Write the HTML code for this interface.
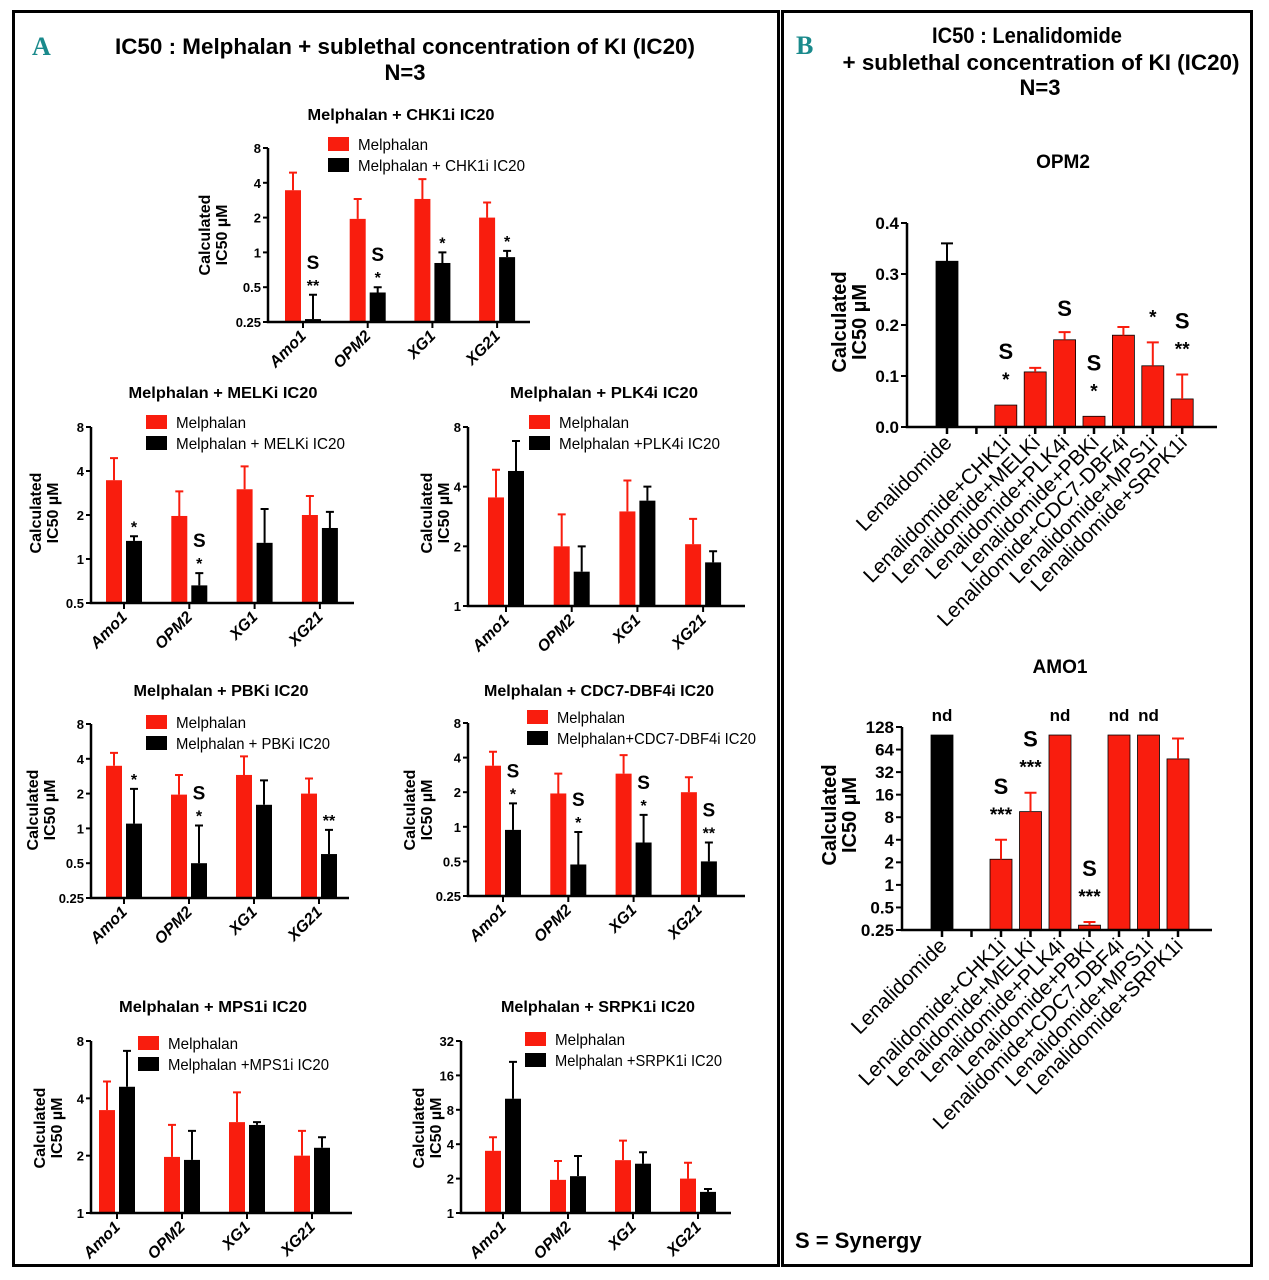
<!DOCTYPE html>
<html><head><meta charset="utf-8"><style>
html,body{margin:0;padding:0;background:#fff;}
svg{display:block;font-family:"Liberation Sans",Arial,sans-serif;}
.b{font-weight:bold;}
.n{font-family:"Liberation Sans Narrow","Liberation Sans",sans-serif;}
</style></head><body>
<svg id="fig" width="1269" height="1280" viewBox="0 0 1269 1280" xmlns="http://www.w3.org/2000/svg">
<rect x="0" y="0" width="1269" height="1280" fill="#fff"/>
<rect x="13.5" y="11.5" width="765" height="1254" fill="none" stroke="#000" stroke-width="3"/>
<rect x="782.5" y="11.5" width="469" height="1254" fill="none" stroke="#000" stroke-width="3"/>
<text x="32" y="55" font-size="26" font-weight="bold" fill="#1a8a8c" font-family="Liberation Serif,serif">A</text>
<text x="405" y="54" text-anchor="middle" font-size="22" class="b" textLength="580" lengthAdjust="spacingAndGlyphs">IC50 : Melphalan + sublethal concentration of KI (IC20)</text>
<text x="405" y="80" text-anchor="middle" font-size="22" class="b">N=3</text>
<text x="796" y="54" font-size="26" font-weight="bold" fill="#1a8a8c" font-family="Liberation Serif,serif">B</text>
<text x="1027" y="43" text-anchor="middle" font-size="22" class="b" textLength="190" lengthAdjust="spacingAndGlyphs">IC50 : Lenalidomide</text>
<text x="1041" y="70" text-anchor="middle" font-size="22" class="b" textLength="397" lengthAdjust="spacingAndGlyphs">+ sublethal concentration of KI (IC20)</text>
<text x="1040" y="95" text-anchor="middle" font-size="22" class="b">N=3</text>
<text x="1063" y="168" text-anchor="middle" font-size="19" class="b">OPM2</text>
<text x="1060" y="673" text-anchor="middle" font-size="19" class="b">AMO1</text>
<text x="795" y="1248" font-size="22" class="b">S = Synergy</text>
<g id="plots"></g>
</svg>
<script>
// ---- data ----
const cellLines = ['Amo1','OPM2','XG1','XG21'];
const ticksA = [0.25,0.5,1,2,4,8];
const ticksB = [0.5,1,2,4,8];
const ticksC = [1,2,4,8];
const ticksD = [1,2,4,8,16,32];

const chk1Mel = [3.45,1.95,2.9,2.0];
const chk1MelErr = [4.9,2.9,4.3,2.7];
const chk1Combo = [0.265,0.45,0.81,0.91];
const chk1ComboErr = [0.43,0.5,1.0,1.03];
const chk1Sig = ['**','*','*','*'];
const chk1Syn = [1,1,0,0];

const melkMel = [3.46,1.97,3.0,2.0];
const melkMelErr = [4.9,2.9,4.3,2.7];
const melkCombo = [1.33,0.66,1.29,1.63];
const melkComboErr = [1.43,0.8,2.2,2.1];
const melkSig = ['*','*','',''];
const melkSyn = [0,1,0,0];

const plk4Mel = [3.53,2.0,3.0,2.05];
const plk4MelErr = [4.87,2.9,4.3,2.75];
const plk4Combo = [4.8,1.49,3.4,1.66];
const plk4ComboErr = [6.8,2.0,4.0,1.89];
const plk4Sig = ['','','',''];
const plk4Syn = [0,0,0,0];

const pbkMel = [3.48,1.96,2.9,2.0];
const pbkMelErr = [4.5,2.9,4.2,2.7];
const pbkCombo = [1.1,0.5,1.6,0.6];
const pbkComboErr = [2.2,1.06,2.6,0.97];
const pbkSig = ['*','*','','**'];
const pbkSyn = [0,1,0,0];

const cdc7Mel = [3.4,1.95,2.9,2.0];
const cdc7MelErr = [4.5,2.9,4.2,2.7];
const cdc7Combo = [0.94,0.47,0.73,0.5];
const cdc7ComboErr = [1.6,0.9,1.27,0.73];
const cdc7Sig = ['*','*','*','**'];
const cdc7Syn = [1,1,1,1];

const mps1Mel = [3.47,1.97,3.0,2.0];
const mps1MelErr = [4.9,2.9,4.3,2.7];
const mps1Combo = [4.6,1.9,2.9,2.2];
const mps1ComboErr = [7.1,2.7,3.0,2.5];
const mps1Sig = ['','','',''];
const mps1Syn = [0,0,0,0];

const srpkMel = [3.5,1.95,2.9,2.0];
const srpkMelErr = [4.6,2.85,4.3,2.75];
const srpkCombo = [10,2.1,2.7,1.53];
const srpkComboErr = [21,3.15,3.4,1.62];
const srpkSig = ['','','',''];
const srpkSyn = [0,0,0,0];

const lenCats = ['Lenalidomide','','Lenalidomide+CHK1i','Lenalidomide+MELKi','Lenalidomide+PLK4i','Lenalidomide+PBKi','Lenalidomide+CDC7-DBF4i','Lenalidomide+MPS1i','Lenalidomide+SRPK1i'];
const opm2Ticks = [0,0.1,0.2,0.3,0.4];
const opm2TickLabels = ['0.0','0.1','0.2','0.3','0.4'];
const opm2Vals = [0.325,null,0.043,0.108,0.171,0.021,0.18,0.12,0.055];
const opm2Err = [0.36,null,null,0.116,0.186,null,0.196,0.166,0.103];
const opm2Sig = ['','','*','','','*','','*','**'];
const opm2Syn = [0,0,1,0,1,1,0,0,1];
const amo1Ticks = [0.25,0.5,1,2,4,8,16,32,64,128];
const amo1TickLabels = ['0.25','0.5','1','2','4','8','16','32','64','128'];
const amo1Vals = [100,null,2.2,9.5,100,0.29,100,100,48];
const amo1Err = [null,null,4,17,null,0.32,null,null,90];
const amo1Sig = ['','','***','***','','***','','',''];
const amo1Syn = [0,0,1,1,0,1,0,0,0];
const amo1Nd = [1,0,0,0,1,0,1,1,0];

const RED = '#f91d0e';
const NS = 'http://www.w3.org/2000/svg';
const root = document.getElementById('plots');
function mk(tag, attrs, parent, txt){
  const e = document.createElementNS(NS, tag);
  for (const k in attrs) e.setAttribute(k, attrs[k]);
  if (txt !== undefined) e.textContent = txt;
  (parent || root).appendChild(e);
  return e;
}
function fmt(v){ return String(v); }

function drawMel(p){
  const g = mk('g', {});
  
  
  const l0 = Math.log2(p.min), l1 = Math.log2(p.max);
  const y = v => p.ay - (Math.log2(v) - l0) / (l1 - l0) * (p.ay - p.top);
  const x = i => p.x0 + i * p.step;
  const t = mk('text', {x: p.tx, y: p.ty, 'text-anchor':'middle', 'font-size':16, 'font-weight':'bold', textLength:p.tw, lengthAdjust:'spacingAndGlyphs'}, g, p.title);
  
  
  const lr = mk('rect', {x:p.lx, y:p.ly, width:21, height:14, fill:RED}, g);
  
  
  const lb = mk('rect', {x:p.lx, y:p.ly+21, width:21, height:14, fill:'#000'}, g);
  
  
  const lt1 = mk('text', {x:p.lx+30, y:p.ly+13, 'font-size':16, class:'n', textLength:p.lw1, lengthAdjust:'spacingAndGlyphs'}, g, 'Melphalan');
  
  
  const lt2 = mk('text', {x:p.lx+30, y:p.ly+34, 'font-size':16, class:'n', textLength:p.lw2, lengthAdjust:'spacingAndGlyphs'}, g, p.legend2);
  
  
  const yt = mk('text', {transform:`translate(${p.ytx},${p.yty}) rotate(-90)`, 'text-anchor':'middle', 'font-size':16, 'font-weight':'bold'}, g);
  
  
  mk('tspan', {x:0, y:0}, yt, 'Calculated');
  mk('tspan', {x:0, y:17}, yt, 'IC50 µM');
  const series = [[p.red, p.redErr, RED, -10, 'melphalan'], [p.black, p.blackErr, '#000', 10, 'combo']];
  series.forEach(s => {
    s[0].forEach((v, i) => {
      const cx = x(i) + s[3];
      const bt = y(v);
      const r = mk('rect', {x:cx-8, y:bt, width:16, height:p.ay-bt, fill:s[2]}, g);
      
      
      const et = y(s[1][i]);
      const e = mk('path', {d:`M${cx} ${bt} V${et} M${cx-4} ${et} H${cx+4}`, stroke:s[2], 'stroke-width':2, fill:'none'}, g);
      
      
    });
  });
  p.black.forEach((v, i) => {
    const cx = x(i) + 10;
    const et = y(p.blackErr[i]);
    let sb = et - 4;
    if (p.sig[i]) {
      const st = mk('text', {x:cx, y:sb, 'text-anchor':'middle', 'font-size':16, 'font-weight':'bold'}, g, p.sig[i]);
      
      
      sb -= 22;
    } else sb -= 2;
    if (p.syn[i]) {
      const ss = mk('text', {x:cx, y:sb, 'text-anchor':'middle', 'font-size':19, 'font-weight':'bold'}, g, 'S');
      
      
    }
  });
  const ax = mk('path', {d:`M${p.ax} ${p.top} V${p.ay} H${p.right}`, stroke:'#000', 'stroke-width':2.5, fill:'none'}, g);
  
  
  p.ticks.forEach(tv => {
    const ty = y(tv);
    mk('line', {x1:p.ax-5, x2:p.ax, y1:ty, y2:ty, stroke:'#000', 'stroke-width':2}, g);
    const tl = mk('text', {x:p.ax-7, y:ty+5, 'text-anchor':'end', 'font-size':13, 'font-weight':'bold', class:'n'}, g, fmt(tv));
    
    
  });
  cellLines.forEach((c, i) => {
    mk('line', {x1:x(i), x2:x(i), y1:p.ay, y2:p.ay+6, stroke:'#000', 'stroke-width':2}, g);
    const cl = mk('text', {transform:`translate(${x(i)+4},${p.ay+15}) rotate(-45)`, 'text-anchor':'end', 'font-size':16, 'font-weight':'bold', 'font-style':'italic'}, g, c);
    
    
  });
}

drawMel({name:'chk1', title:'Melphalan + CHK1i IC20', tx:401, ty:120, tw:187, lx:328, ly:137, lw1:70, lw2:167, legend2:'Melphalan + CHK1i IC20', ytx:210, yty:235,
  ax:268, ay:322, top:148, right:530, min:0.25, max:8, ticks:ticksA, x0:303, step:64.7,
  red:chk1Mel, redErr:chk1MelErr, black:chk1Combo, blackErr:chk1ComboErr, sig:chk1Sig, syn:chk1Syn});
drawMel({name:'melk', title:'Melphalan + MELKi IC20', tx:223, ty:398, tw:189, lx:146, ly:415, lw1:70, lw2:169, legend2:'Melphalan + MELKi IC20', ytx:41, yty:513,
  ax:91, ay:603, top:427, right:354, min:0.5, max:8, ticks:ticksB, x0:124, step:65.3,
  red:melkMel, redErr:melkMelErr, black:melkCombo, blackErr:melkComboErr, sig:melkSig, syn:melkSyn});
drawMel({name:'plk4', title:'Melphalan + PLK4i IC20', tx:604, ty:398, tw:188, lx:529, ly:415, lw1:70, lw2:161, legend2:'Melphalan +PLK4i IC20', ytx:432, yty:513,
  ax:468, ay:606, top:427, right:745, min:1, max:8, ticks:ticksC, x0:506, step:65.7,
  red:plk4Mel, redErr:plk4MelErr, black:plk4Combo, blackErr:plk4ComboErr, sig:plk4Sig, syn:plk4Syn});
drawMel({name:'pbk', title:'Melphalan + PBKi IC20', tx:221, ty:696, tw:175, lx:146, ly:715, lw1:70, lw2:154, legend2:'Melphalan + PBKi IC20', ytx:38, yty:810,
  ax:91, ay:898, top:724, right:349, min:0.25, max:8, ticks:ticksA, x0:124, step:65,
  red:pbkMel, redErr:pbkMelErr, black:pbkCombo, blackErr:pbkComboErr, sig:pbkSig, syn:pbkSyn});
drawMel({name:'cdc7', title:'Melphalan + CDC7-DBF4i IC20', tx:599, ty:696, tw:230, lx:527, ly:710, lw1:68, lw2:199, legend2:'Melphalan+CDC7-DBF4i IC20', ytx:415, yty:810,
  ax:468, ay:896, top:723, right:745, min:0.25, max:8, ticks:ticksA, x0:503, step:65.3,
  red:cdc7Mel, redErr:cdc7MelErr, black:cdc7Combo, blackErr:cdc7ComboErr, sig:cdc7Sig, syn:cdc7Syn});
drawMel({name:'mps1', title:'Melphalan + MPS1i IC20', tx:213, ty:1012, tw:188, lx:138, ly:1036, lw1:70, lw2:161, legend2:'Melphalan +MPS1i IC20', ytx:45, yty:1128,
  ax:91, ay:1213, top:1041, right:352, min:1, max:8, ticks:ticksC, x0:117, step:65,
  red:mps1Mel, redErr:mps1MelErr, black:mps1Combo, blackErr:mps1ComboErr, sig:mps1Sig, syn:mps1Syn});
drawMel({name:'srpk1', title:'Melphalan + SRPK1i IC20', tx:598, ty:1012, tw:194, lx:525, ly:1032, lw1:70, lw2:167, legend2:'Melphalan +SRPK1i IC20', ytx:424, yty:1128,
  ax:461, ay:1213, top:1041, right:731, min:1, max:32, ticks:ticksD, x0:503, step:65,
  red:srpkMel, redErr:srpkMelErr, black:srpkCombo, blackErr:srpkComboErr, sig:srpkSig, syn:srpkSyn});

function drawLen(p){
  const g = mk('g', {});
  
  
  let y;
  if (p.log) {
    const l0 = Math.log2(p.min), l1 = Math.log2(p.max);
    y = v => p.ay - (Math.log2(v) - l0) / (l1 - l0) * (p.ay - p.top);
  } else {
    y = v => p.ay - (v - p.min) / (p.max - p.min) * (p.ay - p.top);
  }
  const x = i => p.x0 + i * p.step;
  const yt = mk('text', {transform:`translate(${p.ytx},${p.yty}) rotate(-90)`, 'text-anchor':'middle', 'font-size':20, 'font-weight':'bold'}, g);
  
  
  mk('tspan', {x:0, y:0}, yt, 'Calculated');
  mk('tspan', {x:0, y:20}, yt, 'IC50 µM');
  p.vals.forEach((v, i) => {
    if (v === null) return;
    const cx = x(i);
    const col = i === 0 ? '#000' : RED;
    const bt = y(v);
    const r = mk('rect', {x:cx-11, y:bt, width:22, height:p.ay-bt, fill:col, stroke:'#000', 'stroke-width':0.8}, g);
    
    
    let top = bt;
    if (p.err[i] !== null) {
      const et = y(p.err[i]);
      const e = mk('path', {d:`M${cx} ${bt} V${et} M${cx-6} ${et} H${cx+6}`, stroke:col, 'stroke-width':2, fill:'none'}, g);
      
      
      top = et;
    }
    let sb = top - 19;
    if (p.sig[i]) {
      const st = mk('text', {x:cx, y:sb, 'text-anchor':'middle', 'font-size':19, 'font-weight':'bold'}, g, p.sig[i]);
      
      
      sb -= 27;
    } else sb += 3;
    if (p.syn[i]) {
      const ss = mk('text', {x:cx, y:sb, 'text-anchor':'middle', 'font-size':22, 'font-weight':'bold'}, g, 'S');
      
      
    }
    if (p.nd && p.nd[i]) {
      const nd = mk('text', {x:cx, y:p.top - 6, 'text-anchor':'middle', 'font-size':17, 'font-weight':'bold'}, g, 'nd');
      
      
    }
  });
  const ax = mk('path', {d:`M${p.ax} ${p.top} V${p.ay} H${p.right}`, stroke:'#000', 'stroke-width':2.5, fill:'none'}, g);
  
  
  p.ticks.forEach((tv, k) => {
    const ty = y(tv);
    mk('line', {x1:p.ax-6, x2:p.ax, y1:ty, y2:ty, stroke:'#000', 'stroke-width':2}, g);
    const tl = mk('text', {x:p.ax-8, y:ty+6, 'text-anchor':'end', 'font-size':17, 'font-weight':'bold'}, g, p.tickLabels[k]);
    
    
  });
  lenCats.forEach((c, i) => {
    mk('line', {x1:x(i), x2:x(i), y1:p.ay, y2:p.ay+7, stroke:'#000', 'stroke-width':2.5}, g);
    if (!c) return;
    const cl = mk('text', {transform:`translate(${x(i)+6},${p.ay+17}) rotate(-45)`, 'text-anchor':'end', 'font-size':21}, g, c);
    
    
  });
}

drawLen({name:'opm2', log:false, min:0, max:0.4, ax:907, ay:427, top:223, right:1217, x0:947, step:29.4, ytx:846, yty:322,
  ticks:opm2Ticks, tickLabels:opm2TickLabels, vals:opm2Vals, err:opm2Err, sig:opm2Sig, syn:opm2Syn});
drawLen({name:'amo1', log:true, min:0.25, max:128, ax:902, ay:930, top:727, right:1212, x0:942, step:29.5, ytx:836, yty:815,
  ticks:amo1Ticks, tickLabels:amo1TickLabels, vals:amo1Vals, err:amo1Err, sig:amo1Sig, syn:amo1Syn, nd:amo1Nd});
</script>
</body></html>
